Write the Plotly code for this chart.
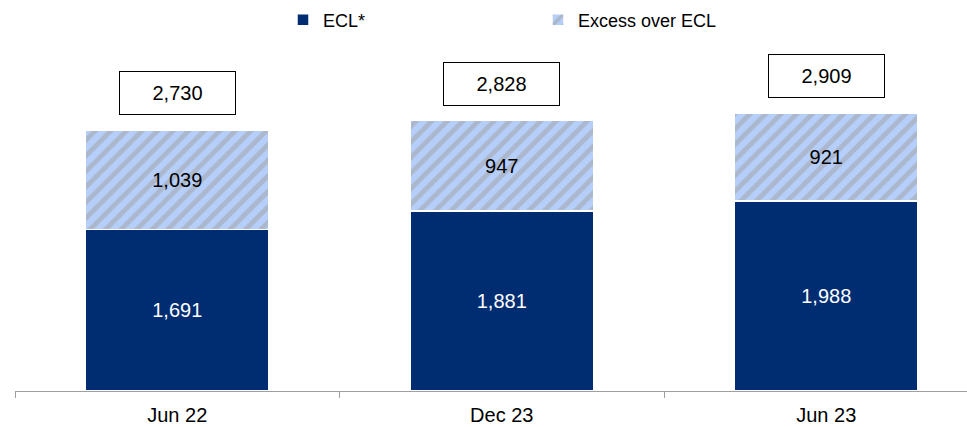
import plotly.graph_objects as go

categories = ["Jun 22", "Dec 23", "Jun 23"]
ecl = [1691, 1881, 1988]
excess = [1039, 947, 921]
totals = [2730, 2828, 2909]

def fmt(v):
    return f"{v:,}"

FONT = "Liberation Sans, Arial"

fig = go.Figure()
fig.add_trace(go.Bar(
    x=categories, y=ecl, name="ECL*",
    marker=dict(color="#002D72", line=dict(color="white", width=1.5)),
    text=[fmt(v) for v in ecl], textposition="inside", insidetextanchor="middle",
    textfont=dict(color="white", size=20, family=FONT),
    width=0.565,
))
fig.add_trace(go.Bar(
    x=categories, y=excess, name="Excess over ECL",
    marker=dict(color="#B6CFFA", line=dict(color="white", width=1.5),
                pattern=dict(shape="/", fgcolor="#A0A0A0", bgcolor="#B6CFFA",
                             size=11, solidity=0.45, fillmode="overlay")),
    text=[fmt(v) for v in excess], textposition="inside", insidetextanchor="middle",
    textfont=dict(color="black", size=20, family=FONT),
    width=0.565,
))

for c, t in zip(categories, totals):
    fig.add_annotation(
        x=c, y=t, text=fmt(t), showarrow=False, yshift=37,
        bordercolor="black", borderwidth=1, borderpad=1,
        bgcolor="white", width=113, height=40,
        font=dict(size=20, color="black", family=FONT),
    )

fig.update_layout(
    barmode="stack",
    width=967, height=427,
    margin=dict(l=15, r=0, t=40, b=36, autoexpand=False),
    plot_bgcolor="white", paper_bgcolor="white",
    font=dict(family=FONT, color="black"),
    showlegend=True,
    legend=dict(orientation="h", xref="container", yref="container",
                x=283 / 967, y=1 - 20 / 427, xanchor="left", yanchor="middle",
                font=dict(size=18), entrywidth=210, traceorder="normal"),
    uniformtext=dict(mode="show", minsize=10),
)
fig.update_xaxes(
    range=[-0.5, 2.4337], tickson="boundaries", ticks="outside", ticklen=6,
    tickcolor="#A0A0A0", showline=True, linecolor="#A0A0A0", linewidth=1,
    tickfont=dict(size=20, color="black"), showgrid=False, ticklabelstandoff=6,
)
fig.update_yaxes(range=[0, 3672], visible=False, showgrid=False)

fig.write_html("out.html", config={"displayModeBar": False},
               post_script="document.body.style.margin='0px';")
